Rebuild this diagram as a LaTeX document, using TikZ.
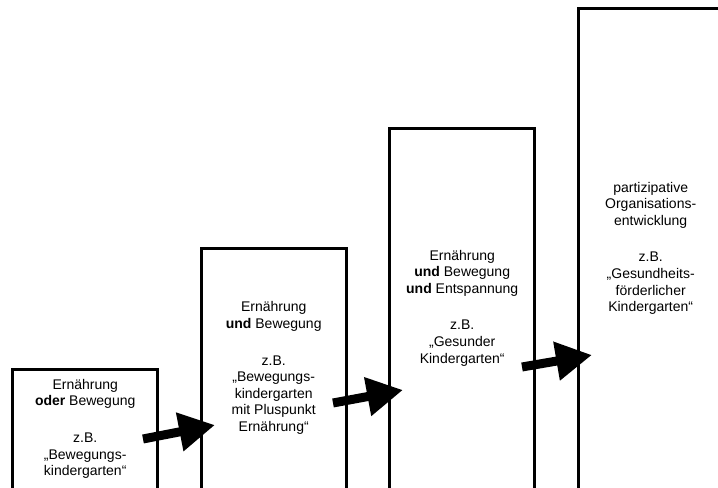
\documentclass[tikz,border=0pt]{standalone}
\usepackage{fontspec}
\setmainfont{Liberation Sans}
\usetikzlibrary{arrows.meta}
\tikzset{
  stufe/.style = {minimum width = 145bp, anchor = south west, align = center, inner sep = 0pt, font = \fontsize{14bp}{16.6bp}\selectfont},
  rand/.style = {line width = 3bp},
  pfeil/.style = {line width = 9bp, -{Triangle[length = 36bp, width = 37bp]}}
}

\begin{document}
\begin{tikzpicture}[x = 1bp, y = 1bp]
    % Rahmen
    \useasboundingbox (0,0) rectangle (718,488);
    \clip (0,0) rectangle (718,488);
    % Stufen
    \node[stufe, minimum height = 118bp] (s1) at (12.5,0) {Ernährung\\\textbf{oder} Bewegung\\[20bp]z.B.\\„Bewegungs-\\kindergarten“};
    \node[stufe, minimum height = 239.5bp] (s2) at (201,0) {Ernährung\\\textbf{und} Bewegung\\[20bp]z.B.\\„Bewegungs-\\kindergarten\\mit Pluspunkt\\Ernährung“};
    \node[stufe, minimum height = 359.5bp] (s3) at (389.5,0) {Ernährung\\\textbf{und} Bewegung\\\textbf{und} Entspannung\\[20bp]z.B.\\„Gesunder\\Kindergarten“};
    \node[stufe, minimum height = 479bp] (s4) at (578,0) {partizipative\\Organisations-\\entwicklung\\[20bp]z.B.\\„Gesundheits-\\förderlicher\\Kindergarten“};
    % Kanten (unten offen)
    \draw[rand] (s1.south west) |- (s1.north east) -- (s1.south east);
    \draw[rand] (s2.south west) |- (s2.north east) -- (s2.south east);
    \draw[rand] (s3.south west) |- (s3.north east) -- (s3.south east);
    \draw[rand] (s4.south west) |- (s4.north east) -- (s4.south east);
    % Pfeile
    \coordinate (p1a) at (143,49);
    \coordinate (p1b) at (215,63);
    \coordinate (p2a) at (333,85);
    \coordinate (p2b) at (403,98);
    \coordinate (p3a) at (522,121);
    \coordinate (p3b) at (592,133);
    \draw[pfeil] (p1a) -- (p1b);
    \draw[pfeil] (p2a) -- (p2b);
    \draw[pfeil] (p3a) -- (p3b);
\end{tikzpicture}
\end{document}
